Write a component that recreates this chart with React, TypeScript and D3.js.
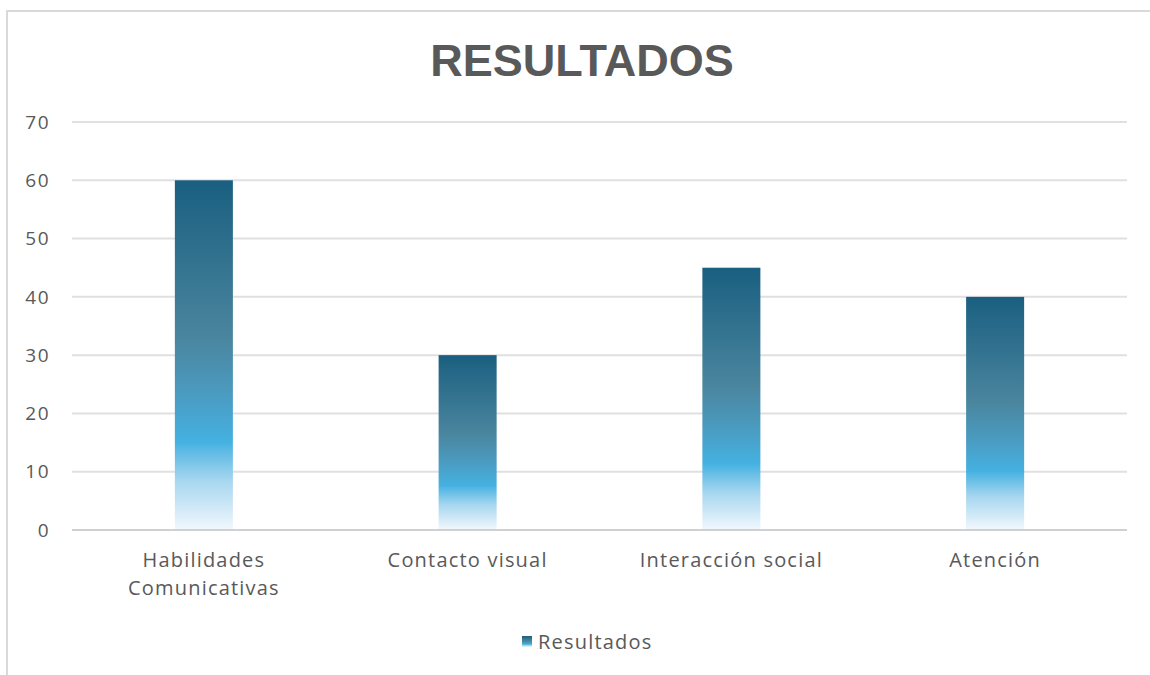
import React from 'react';
import * as d3 from 'd3';

const categories = ['Habilidades Comunicativas', 'Contacto visual', 'Interacción social', 'Atención'];
const categoryLines = [['Habilidades', 'Comunicativas'], ['Contacto visual'], ['Interacción social'], ['Atención']];
const values = [60, 30, 45, 40];
const yTicks = [0, 10, 20, 30, 40, 50, 60, 70];
const seriesName = 'Resultados';

const W = 1150;
const H = 675;
const margin = { top: 122, right: 23, bottom: 145, left: 72 };

const gradStops = [
  { offset: '0%', color: '#1a5f80' },
  { offset: '45%', color: '#4a859e' },
  { offset: '62%', color: '#4a9cc2' },
  { offset: '75%', color: '#45b1e1' },
  { offset: '86%', color: '#a6d6ef' },
  { offset: '100%', color: '#f0f7fd' },
];

export default function App() {
  const innerW = W - margin.left - margin.right;
  const innerH = H - margin.top - margin.bottom;

  const x = d3.scaleBand().domain(categories).range([0, innerW]).paddingInner(0.78).paddingOuter(0.39);
  const y = d3.scaleLinear().domain([0, 70]).range([innerH, 0]);

  const font = "'Open Sans', 'Liberation Sans', sans-serif";
  const grey = '#595959';

  return (
    <div style={{ position: 'fixed', left: 0, top: 0, width: W, height: H, background: '#fff' }}>
      <svg width={W} height={H} style={{ display: 'block' }}>
        <defs>
          <linearGradient id="bar-grad" x1="0" y1="0" x2="0" y2="1">
            {gradStops.map((s) => (
              <stop key={s.offset} offset={s.offset} stopColor={s.color} />
            ))}
          </linearGradient>
        </defs>

        {/* outer frame, cut at right/bottom */}
        <line x1={7} x2={W} y1={11} y2={11} stroke="#d9d9d9" strokeWidth={2} />
        <line x1={7} x2={7} y1={10} y2={H} stroke="#d9d9d9" strokeWidth={2} />

        <text x={582} y={76} textAnchor="middle" fontFamily="'Liberation Sans', Arial, sans-serif"
          fontWeight="bold" fontSize={45} fill={grey}>
          RESULTADOS
        </text>

        <g transform={`translate(${margin.left},${margin.top})`}>
          {yTicks.map((t) => (
            <g key={t}>
              <line x1={0} x2={innerW} y1={y(t)} y2={y(t)}
                stroke={t === 0 ? '#d0d0d0' : '#e0e0e0'} strokeWidth={2} />
              <text x={-22} y={y(t)} dy="0.35em" textAnchor="end" fontFamily={font}
                fontSize={19} letterSpacing={1.5} fill={grey}>{t}</text>
            </g>
          ))}

          {values.map((v, i) => (
            <rect key={categories[i]} x={x(categories[i])} y={y(v)} width={x.bandwidth()}
              height={y(0) - y(v) - 1} fill="url(#bar-grad)" />
          ))}

          {categoryLines.map((lines, i) => (
            <text key={categories[i]} x={(x(categories[i]) as number) + x.bandwidth() / 2}
              y={innerH + 37} textAnchor="middle" fontFamily={font} fontSize={20}
              letterSpacing={1.2} fill={grey}>
              {lines.map((l, j) => (
                <tspan key={l} x={(x(categories[i]) as number) + x.bandwidth() / 2} dy={j === 0 ? 0 : 28}>{l}</tspan>
              ))}
            </text>
          ))}
        </g>

        <rect x={522} y={636} width={10} height={11} fill="url(#bar-grad)" />
        <text x={538} y={649} fontFamily={font} fontSize={20} letterSpacing={1.2} fill={grey}>{seriesName}</text>
      </svg>
    </div>
  );
}
